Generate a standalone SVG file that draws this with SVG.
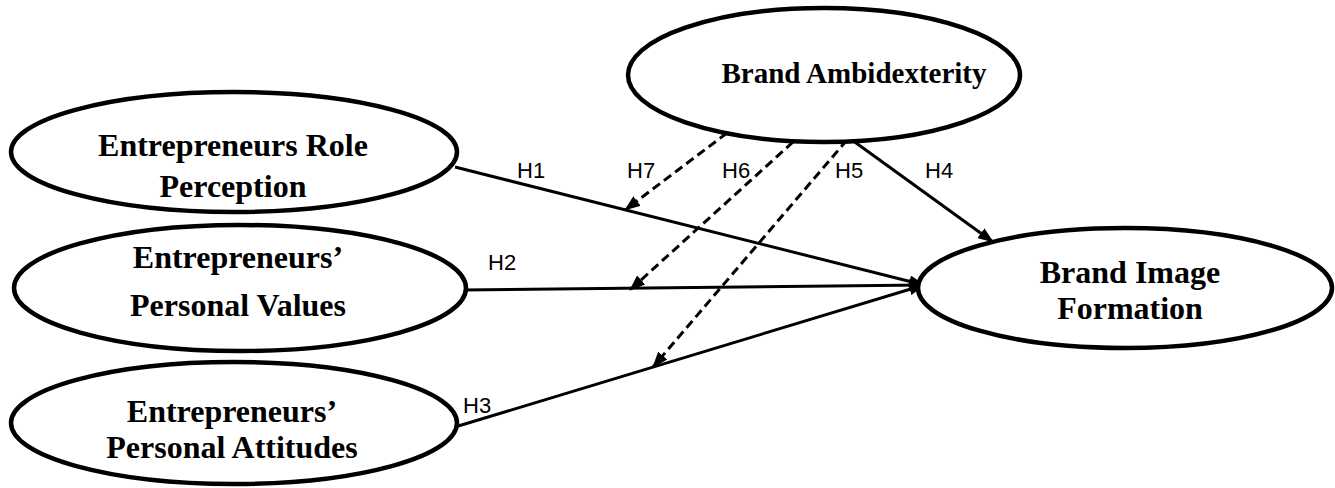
<svg xmlns="http://www.w3.org/2000/svg" width="1335" height="488" viewBox="0 0 1335 488">
  <style>
    .node { fill: #ffffff; stroke: #000000; stroke-width: 4.5; }
    .label { font-family: "Liberation Serif", "Times New Roman", serif; font-weight: bold; font-size: 32px; fill: #000000; text-anchor: middle; }
    .edge { fill: none; stroke: #000000; stroke-width: 3; }
    .dashed { stroke-dasharray: 9 5; }
    .hyp { font-family: "Liberation Sans", Arial, sans-serif; font-size: 22px; fill: #000000; }
    .caption { font-family: "Liberation Sans", Arial, sans-serif; font-size: 26px; fill: #8a8a8a; }
  </style>
  <defs>
    <marker id="arrow" viewBox="0 0 16 12" refX="15" refY="6" markerWidth="16" markerHeight="12" markerUnits="userSpaceOnUse" orient="auto">
      <path d="M0,0 L16,6 L0,12 Z" fill="#000000"/>
    </marker>
  </defs>

  <rect width="1335" height="488" fill="#ffffff"/>

  <!-- connectors -->
  <g id="connectors">
    <line id="h1" class="edge" x1="455" y1="167" x2="924" y2="285" marker-end="url(#arrow)"/>
    <line id="h2" class="edge" x1="463" y1="290" x2="924" y2="285" marker-end="url(#arrow)"/>
    <line id="h3" class="edge" x1="455" y1="427" x2="924" y2="285" marker-end="url(#arrow)"/>
    <line id="h4" class="edge" x1="852" y1="140" x2="993" y2="242" marker-end="url(#arrow)"/>
    <line id="h7" class="edge dashed" x1="727" y1="133" x2="625" y2="210" marker-end="url(#arrow)"/>
    <line id="h6" class="edge dashed" x1="793" y1="142" x2="630" y2="290" marker-end="url(#arrow)"/>
    <line id="h5" class="edge dashed" x1="847" y1="140" x2="653" y2="367" marker-end="url(#arrow)"/>
    <text class="hyp" x="517" y="178">H1</text>
    <text class="hyp" x="488" y="270">H2</text>
    <text class="hyp" x="463" y="413">H3</text>
    <text class="hyp" x="925" y="178">H4</text>
    <text class="hyp" x="835" y="178">H5</text>
    <text class="hyp" x="722" y="178">H6</text>
    <text class="hyp" x="627" y="178">H7</text>
  </g>

  <!-- constructs -->
  <g id="role-perception">
    <ellipse class="node" cx="234" cy="152" rx="223" ry="60"/>
    <text class="label" x="233" y="156">Entrepreneurs Role</text>
    <text class="label" x="233" y="197">Perception</text>
  </g>
  <g id="personal-values">
    <ellipse class="node" cx="240" cy="288" rx="226" ry="63"/>
    <text class="label" x="238" y="268">Entrepreneurs’</text>
    <text class="label" x="238" y="316">Personal Values</text>
  </g>
  <g id="personal-attitudes">
    <ellipse class="node" cx="234" cy="423" rx="223" ry="61"/>
    <text class="label" x="232" y="422">Entrepreneurs’</text>
    <text class="label" x="232" y="458">Personal Attitudes</text>
  </g>
  <g id="brand-ambidexterity">
    <ellipse class="node" cx="824" cy="75" rx="196" ry="67"/>
    <text class="label" x="854" y="83" style="font-size:29px">Brand Ambidexterity</text>
  </g>
  <g id="brand-image-formation">
    <ellipse class="node" cx="1125" cy="288" rx="207" ry="60"/>
    <text class="label" x="1130" y="283">Brand Image</text>
    <text class="label" x="1130" y="319">Formation</text>
  </g>

  <!-- figure caption, running off the lower edge -->
  <text class="caption" x="450" y="510">Figure 1:</text>
  <text class="caption" x="870" y="510" text-anchor="end">Conceptual Framework</text>
</svg>
